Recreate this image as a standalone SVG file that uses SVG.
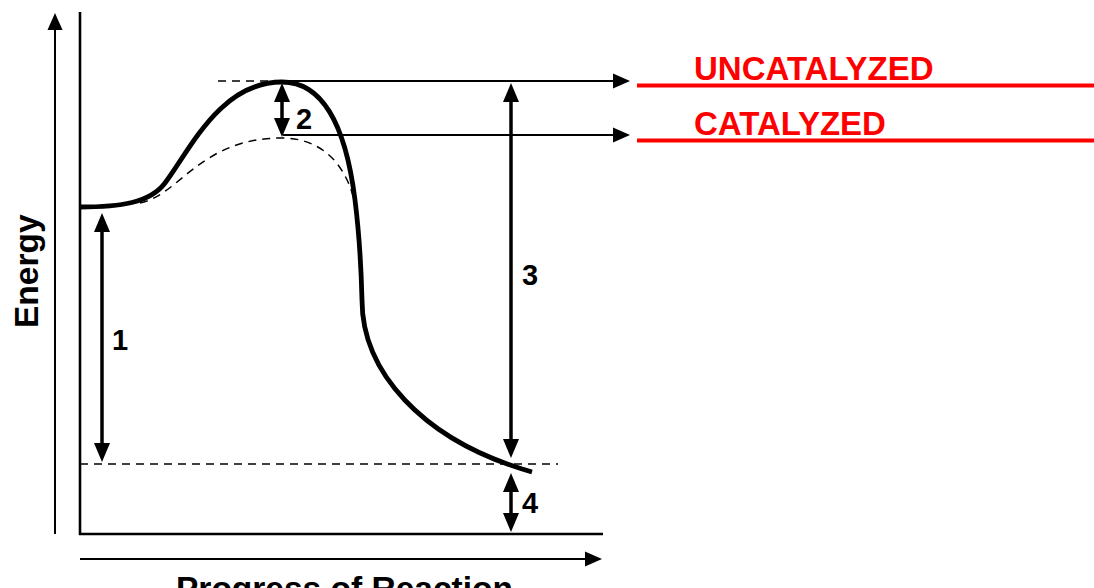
<svg xmlns="http://www.w3.org/2000/svg" width="1094" height="588" viewBox="0 0 1094 588">
  <style>
    .t { font-family: "Liberation Sans", Arial, Helvetica, sans-serif; font-weight: bold; fill: #000; }
    .red { fill: #ff0000; font-size: 33px; }
    .num { font-size: 29px; }
    .axis-label { font-size: 33.5px; }
    .ax { stroke: #000; fill: none; }
    .dash { stroke: #000; fill: none; stroke-width: 1.5; stroke-dasharray: 8 6; }
    .heavy { stroke: #000; stroke-width: 3.5; fill: none; marker-start: url(#hv); marker-end: url(#hv); }
    .thin { stroke: #000; stroke-width: 2; fill: none; marker-end: url(#th); }
  </style>
  <defs>
    <marker id="hv" markerUnits="userSpaceOnUse" markerWidth="20" markerHeight="17" refX="9" refY="8" orient="auto-start-reverse">
      <path d="M0,0 L19,8 L0,16 z" fill="#000"/>
    </marker>
    <marker id="th" markerUnits="userSpaceOnUse" markerWidth="20" markerHeight="17" refX="8" refY="8" orient="auto">
      <path d="M0,0.5 L17,8 L0,15.5 z" fill="#000"/>
    </marker>
  </defs>
  <rect width="1094" height="588" fill="#fff"/>

  <g id="axes">
    <line class="ax" x1="80" y1="12" x2="80" y2="535" stroke-width="2.6"/>
    <line class="ax" x1="79" y1="534" x2="603" y2="534" stroke-width="2.6"/>
    <line class="thin" x1="55" y1="534" x2="55" y2="22"/>
    <line class="thin" x1="80" y1="559" x2="593" y2="559"/>
    <text class="t axis-label" transform="translate(38,328) rotate(-90)">Energy</text>
    <text class="t axis-label" x="176" y="600">Progress of Reaction</text>
  </g>

  <g id="reference-lines">
    <line class="dash" x1="218" y1="81" x2="283" y2="81"/>
    <line class="dash" x1="80" y1="464" x2="558" y2="464"/>
  </g>

  <g id="uncatalyzed-curve">
    <path d="M80,207 C120,207 150,203 165,183 C190,150 220,82 282,82 C320,82 345,120 355,200 C359,232 361,260 362,300 C362,370 420,440 532,472" fill="none" stroke="#000" stroke-width="4.8"/>
  </g>

  <g id="catalyzed-curve">
    <path class="dash" d="M140,203 C180,195 200,138 282,138 C322,138 350,165 357,215"/>
  </g>

  <g id="connectors">
    <line class="thin" x1="283" y1="81" x2="621" y2="81"/>
    <line class="thin" x1="283" y1="135" x2="621" y2="135"/>
    <line class="heavy" x1="102" y1="223" x2="102" y2="452"/>
    <line class="heavy" x1="282" y1="93" x2="282" y2="127"/>
    <line class="heavy" x1="511" y1="93" x2="511" y2="448"/>
    <line class="heavy" x1="511" y1="483" x2="511" y2="522"/>
  </g>

  <g id="label-1"><text class="t num" x="112" y="350">1</text></g>
  <g id="label-2"><text class="t num" x="296" y="129">2</text></g>
  <g id="label-3"><text class="t num" x="522" y="285">3</text></g>
  <g id="label-4"><text class="t num" x="522" y="513">4</text></g>

  <g id="uncatalyzed-label">
    <line x1="637" y1="85.5" x2="1094" y2="85.5" stroke="#ff0000" stroke-width="4"/>
    <text class="t red" x="694" y="80">UNCATALYZED</text>
  </g>
  <g id="catalyzed-label">
    <line x1="637" y1="140.5" x2="1094" y2="140.5" stroke="#ff0000" stroke-width="4"/>
    <text class="t red" x="694" y="135">CATALYZED</text>
  </g>
</svg>
